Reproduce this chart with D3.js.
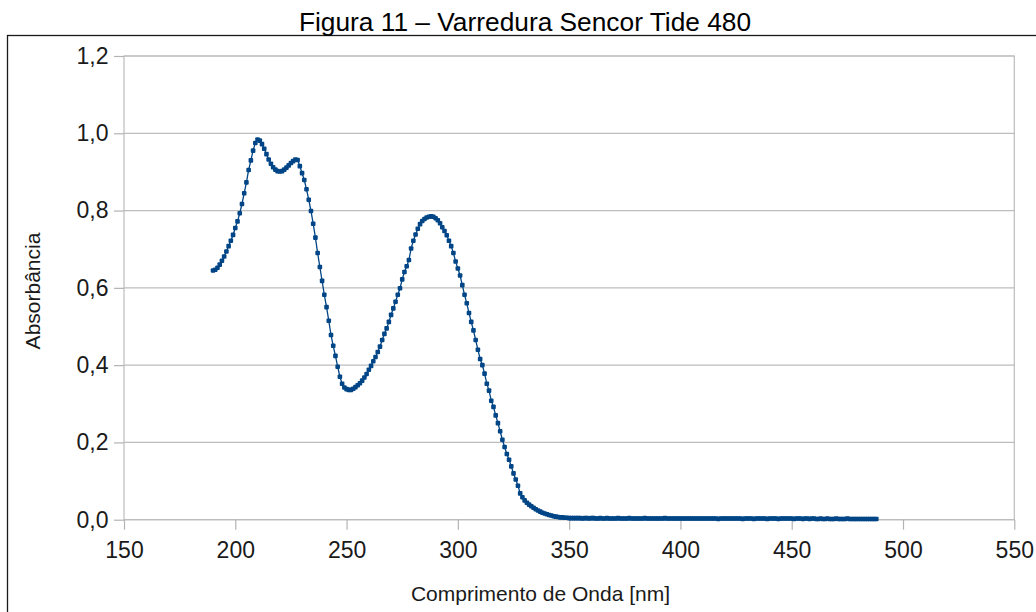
<!DOCTYPE html>
<html>
  <head>
    <meta charset="utf-8">
    <style>
    body {
      margin: 0;
      background: #ffffff;
    }
    svg {
      display: block;
      font-family: "Liberation Sans", Arial, sans-serif;
    }
    .axis text {
      fill: #1a1a1a;
      font-size: 23px;
    }
    .axis line {
      stroke: #b3b3b3;
    }
    </style>
    <script src="https://d3js.org/d3.v7.min.js"></script>
  </head>
  <body>
    <script type="text/javascript">
    // scan: 190 nm to 488 nm, one reading per nm
    var startNm = 190, stepNm = 1;
    var absorbance = [
      0.645,0.647,0.652,0.660,0.670,0.681,0.694,0.708,0.722,0.737,
      0.755,0.772,0.793,0.817,0.845,0.873,0.905,0.930,0.955,0.975,
      0.984,0.981,0.972,0.960,0.946,0.932,0.921,0.912,0.906,0.902,
      0.901,0.902,0.906,0.911,0.917,0.923,0.928,0.932,0.931,0.915,
      0.897,0.879,0.855,0.828,0.799,0.766,0.730,0.690,0.654,0.618,
      0.582,0.550,0.515,0.478,0.450,0.424,0.396,0.370,0.352,0.342,
      0.338,0.336,0.336,0.339,0.343,0.348,0.353,0.360,0.368,0.377,
      0.388,0.398,0.410,0.421,0.434,0.448,0.465,0.481,0.495,0.512,
      0.530,0.547,0.564,0.582,0.599,0.622,0.641,0.656,0.672,0.702,
      0.722,0.738,0.753,0.765,0.773,0.778,0.782,0.784,0.785,0.784,
      0.780,0.775,0.767,0.757,0.747,0.736,0.722,0.708,0.690,0.668,
      0.650,0.632,0.607,0.582,0.560,0.535,0.512,0.490,0.465,0.440,
      0.416,0.400,0.378,0.352,0.334,0.308,0.292,0.270,0.250,0.229,
      0.207,0.188,0.170,0.155,0.138,0.120,0.104,0.088,0.068,0.058,
      0.050,0.044,0.039,0.035,0.031,0.027,0.024,0.021,0.018,0.016,
      0.014,0.012,0.011,0.009,0.008,0.007,0.006,0.006,0.005,0.005,
      0.004,0.004,0.004,0.004,0.004,0.004,0.003,0.004,0.004,0.003,
      0.004,0.004,0.003,0.003,0.004,0.003,0.003,0.004,0.003,0.003,
      0.003,0.003,0.004,0.003,0.003,0.003,0.003,0.004,0.003,0.003,
      0.003,0.003,0.003,0.003,0.004,0.003,0.003,0.003,0.003,0.003,
      0.003,0.003,0.003,0.004,0.003,0.003,0.003,0.003,0.003,0.003,
      0.003,0.003,0.003,0.003,0.003,0.003,0.003,0.003,0.003,0.003,
      0.003,0.003,0.003,0.003,0.003,0.003,0.003,0.002,0.003,0.003,
      0.003,0.003,0.003,0.003,0.003,0.003,0.003,0.003,0.002,0.003,
      0.003,0.003,0.003,0.002,0.003,0.003,0.003,0.003,0.003,0.002,
      0.003,0.003,0.003,0.003,0.002,0.003,0.003,0.003,0.003,0.003,
      0.003,0.002,0.003,0.003,0.003,0.002,0.003,0.003,0.002,0.003,
      0.003,0.002,0.002,0.003,0.002,0.002,0.003,0.002,0.002,0.002,
      0.003,0.002,0.002,0.002,0.002,0.003,0.002,0.002,0.002,0.002,
      0.002,0.002,0.002,0.002,0.002,0.002,0.002,0.002,0.002
    ];
    var xTicks = [150, 200, 250, 300, 350, 400, 450, 500, 550];
    var yTicks = [0, 0.2, 0.4, 0.6, 0.8, 1.0, 1.2];
    var title = "Figura 11 – Varredura Sencor Tide 480";
    var xTitle = "Comprimento de Onda [nm]";
    var yTitle = "Absorbância";

    var data = absorbance.map(function(a, i) {
      return {nm: startNm + i * stepNm, a: a};
    });

    var W = 1036, H = 612;
    var margin = {top: 56, right: 21.7, bottom: 92.3, left: 124},
    width = W - margin.left - margin.right,
    height = H - margin.top - margin.bottom;

    var svg0 = d3.select("body")
      .append("svg")
      .attr("width", W)
      .attr("height", H);

    // outer frame of the figure
    svg0.append("rect")
      .attr("x", 7.5).attr("y", 35.5)
      .attr("width", 1100).attr("height", 700)
      .attr("fill", "none")
      .attr("stroke", "#1a1a1a")
      .attr("stroke-width", 1.3);

    svg0.append("text")
      .attr("x", 525).attr("y", 31)
      .attr("text-anchor", "middle")
      .attr("font-size", "26.3px")
      .attr("fill", "#000")
      .text(title);

    var svg = svg0.append("g")
      .attr("transform", "translate(" + margin.left + "," + margin.top + ")");

    var xScale = d3.scaleLinear().domain([150, 550]).range([0, width]);
    var yScale = d3.scaleLinear().domain([0, 1.2]).range([height, 0]);

    // horizontal grid
    svg.selectAll(".grid")
      .data(yTicks)
      .enter().append("line")
      .attr("class", "grid")
      .attr("x1", 0).attr("x2", width)
      .attr("y1", function(d) { return yScale(d); })
      .attr("y2", function(d) { return yScale(d); })
      .attr("stroke", "#bdbdbd")
      .attr("stroke-width", 1.2);

    // plot wall
    svg.append("rect")
      .attr("width", width).attr("height", height)
      .attr("fill", "none")
      .attr("stroke", "#bdbdbd")
      .attr("stroke-width", 1.2);

    var xAxis = svg.append("g")
      .attr("class", "axis")
      .attr("transform", "translate(0," + height + ")")
      .call(d3.axisBottom(xScale).tickValues(xTicks).tickFormat(d3.format("d"))
        .tickSizeInner(10).tickSizeOuter(0).tickPadding(12));
    xAxis.select(".domain").remove();
    xAxis.selectAll("line").attr("stroke-width", 1.2);

    var yAxis = svg.append("g")
      .attr("class", "axis")
      .call(d3.axisLeft(yScale).tickValues(yTicks)
        .tickFormat(function(d) { return d.toFixed(1).replace(".", ","); })
        .tickSizeInner(10).tickSizeOuter(0).tickPadding(5.5));
    yAxis.select(".domain").remove();
    yAxis.selectAll("line").attr("stroke-width", 1.2);

    var line = d3.line()
      .x(function(d) { return xScale(d.nm); })
      .y(function(d) { return yScale(d.a); });

    svg.append("path")
      .datum(data)
      .attr("fill", "none")
      .attr("stroke", "#004586")
      .attr("stroke-width", 1.3)
      .attr("d", line);

    svg.selectAll(".pt")
      .data(data)
      .enter().append("rect")
      .attr("class", "pt")
      .attr("x", function(d) { return xScale(d.nm) - 2.3; })
      .attr("y", function(d) { return yScale(d.a) - 2.3; })
      .attr("width", 4.6).attr("height", 4.6)
      .attr("rx", 1)
      .attr("fill", "#004586");

    // axis titles
    svg0.append("text")
      .attr("x", 540.5).attr("y", 601)
      .attr("text-anchor", "middle")
      .attr("font-size", "21px")
      .attr("fill", "#1a1a1a")
      .text(xTitle);

    svg0.append("text")
      .attr("transform", "translate(40,291) rotate(-90)")
      .attr("text-anchor", "middle")
      .attr("font-size", "21px")
      .attr("fill", "#1a1a1a")
      .text(yTitle);
    </script>
  </body>
</html>
